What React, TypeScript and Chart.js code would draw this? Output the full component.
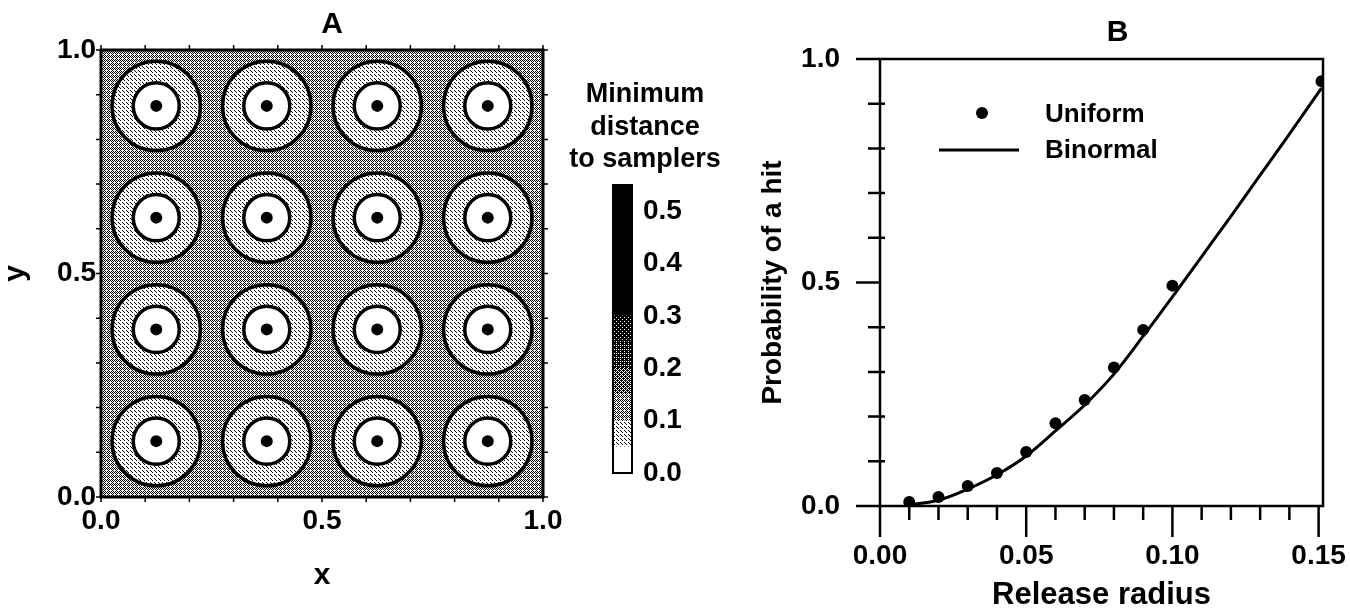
import React, { useEffect, useRef } from 'react';
import { Chart, registerables } from 'chart.js';

Chart.register(...registerables);

const FONT = "'Liberation Sans', Arial, Helvetica, sans-serif";

// ---------- Panel A: sampler layout ----------
const samplerX = [0.125, 0.375, 0.625, 0.875, 0.125, 0.375, 0.625, 0.875, 0.125, 0.375, 0.625, 0.875, 0.125, 0.375, 0.625, 0.875];
const samplerY = [0.875, 0.875, 0.875, 0.875, 0.625, 0.625, 0.625, 0.625, 0.375, 0.375, 0.375, 0.375, 0.125, 0.125, 0.125, 0.125];
const contourLevels = [0.052, 0.1];
const aTickValues = [0, 0.5, 1];
const aTitle = 'A';
const aXTitle = 'x';
const aYTitle = 'y';

// ---------- Colour bar ----------
const cbBounds = [0, 0.05, 0.1, 0.15, 0.2, 0.25, 0.3, 0.55];
const cbTickLabels = ['0.0', '0.1', '0.2', '0.3', '0.4', '0.5'];
const cbTitle = ['Minimum', 'distance', 'to samplers'];

// ---------- Panel B ----------
const uniformRadius = [0.01, 0.02, 0.03, 0.04, 0.05, 0.06, 0.07, 0.08, 0.09, 0.10, 0.151];
const uniformHit = [0.009, 0.02, 0.045, 0.074, 0.121, 0.185, 0.237, 0.31, 0.394, 0.493, 0.95];
const binormalRadius = [0.01, 0.02, 0.03, 0.04, 0.05, 0.06, 0.07, 0.08, 0.09, 0.10, 0.11, 0.12, 0.13, 0.14, 0.151];
const binormalHit = [0.003, 0.013, 0.038, 0.07, 0.112, 0.168, 0.226, 0.295, 0.38, 0.468, 0.558, 0.648, 0.74, 0.832, 0.935];
const bXTicks = [0, 0.05, 0.1, 0.15];
const bYTicks = [0, 0.5, 1];
const bTitle = 'B';
const bXTitle = 'Release radius';
const bYTitle = 'Probability of a hit';
const bSeriesNames = ['Uniform', 'Binormal'];

// dither masks (style only) for the shaded bands, light -> dark
const segmentMasks: string[][] = [
  ['0000', '0000', '0000', '0000'],
  ['1000', '0000', '0010', '0001'],
  ['1010', '0101', '1000', '0101'],
  ['1011', '0101', '1110', '0101'],
  ['1111', '0101', '1111', '1101'],
  ['1111', '1101', '1111', '0111'],
  ['1111', '1111', '1111', '1111'],
];

function makePattern(rows: string[]): CanvasPattern | string {
  const c = document.createElement('canvas');
  c.width = rows[0].length;
  c.height = rows.length;
  const g = c.getContext('2d');
  if (!g) return '#888';
  g.fillStyle = '#fff';
  g.fillRect(0, 0, c.width, c.height);
  g.fillStyle = '#000';
  rows.forEach((r, j) => {
    r.split('').forEach((ch, i) => {
      if (ch === '1') g.fillRect(i, j, 1, 1);
    });
  });
  return g.createPattern(c, 'repeat') || '#888';
}

const near = (v: number, arr: number[]) => arr.some((t) => Math.abs(t - v) < 1e-6);

export default function App() {
  const refA = useRef<HTMLCanvasElement>(null);
  const refCB = useRef<HTMLCanvasElement>(null);
  const refB = useRef<HTMLCanvasElement>(null);

  useEffect(() => {
    const fills = segmentMasks.map(makePattern);
    const segIndexAt = (v: number) => {
      for (let j = 0; j < cbBounds.length - 1; j++) {
        if (v >= cbBounds[j] - 1e-9 && v < cbBounds[j + 1] - 1e-9) return j;
      }
      return cbBounds.length - 2;
    };
    const tickFont = { family: FONT, size: 28, weight: 'bold' as const };
    const hidden = 'rgba(0,0,0,0)';

    // ---------------- Panel A ----------------
    const mapPlugin = {
      id: 'mapA',
      beforeDatasetsDraw(chart: any) {
        const { ctx, chartArea: ca, scales } = chart;
        const x = scales.x;
        const y = scales.y;
        ctx.save();
        const maxLevel = Math.max(...contourLevels);
        ctx.fillStyle = fills[segIndexAt(maxLevel + 0.001)];
        ctx.fillRect(ca.left, ca.top, ca.right - ca.left, ca.bottom - ca.top);
        const desc = [...contourLevels].sort((a, b) => b - a);
        desc.forEach((lv) => {
          const fill = fills[segIndexAt(lv - 0.003)];
          samplerX.forEach((sx, i) => {
            const cx = x.getPixelForValue(sx);
            const cy = y.getPixelForValue(samplerY[i]);
            const rx = x.getPixelForValue(sx + lv) - cx;
            const ry = cy - y.getPixelForValue(samplerY[i] + lv);
            ctx.beginPath();
            ctx.ellipse(cx, cy, rx, ry, 0, 0, Math.PI * 2);
            ctx.fillStyle = fill;
            ctx.fill();
            ctx.lineWidth = 3.5;
            ctx.strokeStyle = '#000';
            ctx.stroke();
          });
        });
        ctx.restore();
      },
      afterDraw(chart: any) {
        const { ctx, chartArea: ca, scales } = chart;
        const x = scales.x;
        const y = scales.y;
        ctx.save();
        ctx.strokeStyle = '#000';
        ctx.lineWidth = 3;
        ctx.strokeRect(ca.left, ca.top, ca.right - ca.left, ca.bottom - ca.top);
        ctx.lineWidth = 1.5;
        ctx.beginPath();
        for (let k = 0; k <= 10; k++) {
          const v = k / 10;
          const px = x.getPixelForValue(v);
          const py = y.getPixelForValue(v);
          ctx.moveTo(px, ca.bottom); ctx.lineTo(px, ca.bottom + 5);
          ctx.moveTo(px, ca.top); ctx.lineTo(px, ca.top - 5);
          ctx.moveTo(ca.left, py); ctx.lineTo(ca.left - 5, py);
          ctx.moveTo(ca.right, py); ctx.lineTo(ca.right + 5, py);
        }
        ctx.stroke();
        ctx.fillStyle = '#000';
        ctx.font = `bold 30px ${FONT}`;
        ctx.textAlign = 'center';
        ctx.textBaseline = 'middle';
        ctx.fillText(aTitle, (ca.left + ca.right) / 2 + 10, 25);
        ctx.restore();
      },
    };

    const chartA = new Chart(refA.current as HTMLCanvasElement, {
      type: 'scatter',
      data: {
        datasets: [
          {
            label: 'samplers',
            data: samplerX.map((sx, i) => ({ x: sx, y: samplerY[i] })),
            pointRadius: 6,
            pointBackgroundColor: '#000',
            pointBorderWidth: 0,
          },
        ],
      },
      options: {
        responsive: false,
        animation: false,
        events: [],
        layout: { padding: { left: 0, top: 50, right: 57, bottom: 0 } },
        plugins: { legend: { display: false }, tooltip: { enabled: false } },
        scales: {
          x: {
            type: 'linear',
            min: 0,
            max: 1,
            afterFit: (s: any) => { s.height = 117; },
            grid: { drawOnChartArea: false, drawTicks: true, tickLength: 5, tickColor: hidden },
            border: { display: false },
            ticks: {
              stepSize: 0.5,
              autoSkip: false,
              maxRotation: 0,
              padding: 2,
              color: '#000',
              font: tickFont,
              callback: (v: any) => (near(Number(v), aTickValues) ? Number(v).toFixed(1) : ''),
            },
            title: { display: true, text: aXTitle, color: '#000', font: { family: FONT, size: 30, weight: 'bold', lineHeight: 1 }, padding: { top: 0, bottom: 23 } },
          },
          y: {
            type: 'linear',
            min: 0,
            max: 1,
            afterFit: (s: any) => { s.width = 101; },
            grid: { drawOnChartArea: false, drawTicks: false },
            border: { display: false },
            ticks: {
              stepSize: 0.5,
              padding: 5,
              color: '#000',
              font: tickFont,
              callback: (v: any) => (near(Number(v), aTickValues) ? Number(v).toFixed(1) : ''),
            },
            title: { display: true, text: aYTitle, color: '#000', font: { family: FONT, size: 30, weight: 'bold', lineHeight: 1 }, padding: { top: 1, bottom: 0 } },
          },
        },
      } as any,
      plugins: [mapPlugin],
    });

    // ---------------- Colour bar ----------------
    const cbPlugin = {
      id: 'cbOutline',
      afterDatasetsDraw(chart: any) {
        const { ctx, chartArea: ca, scales } = chart;
        const y = scales.y;
        const top = y.getPixelForValue(cbBounds[cbBounds.length - 1]);
        const bot = y.getPixelForValue(cbBounds[0]);
        ctx.save();
        ctx.strokeStyle = '#000';
        ctx.lineWidth = 2;
        ctx.strokeRect(ca.left, top, ca.right - ca.left, bot - top);
        // title lines
        ctx.fillStyle = '#000';
        ctx.font = `bold 27px ${FONT}`;
        ctx.textAlign = 'center';
        ctx.textBaseline = 'alphabetic';
        cbTitle.forEach((line, i) => {
          ctx.fillText(line, ca.left + 32, 102 + i * 32.5);
        });
        ctx.restore();
      },
    };
    const chartCB = new Chart(refCB.current as HTMLCanvasElement, {
      type: 'bar',
      data: {
        labels: [''],
        datasets: cbBounds.slice(0, -1).map((lo, j) => ({
          label: `${lo}`,
          data: [[lo, cbBounds[j + 1]]],
          backgroundColor: fills[j],
          borderWidth: 0,
          grouped: false,
          barPercentage: 1,
          categoryPercentage: 1,
        })),
      },
      options: {
        responsive: false,
        animation: false,
        events: [],
        layout: { padding: { left: 63, right: 0, top: 185, bottom: 141 } },
        plugins: {
          legend: { display: false },
          tooltip: { enabled: false },
        },
        scales: {
          x: { display: false },
          y: {
            position: 'right',
            min: 0,
            max: cbBounds[cbBounds.length - 1],
            afterFit: (s: any) => { s.width = 108; },
            grid: { drawOnChartArea: false, drawTicks: false },
            border: { display: false },
            ticks: {
              stepSize: 0.1,
              includeBounds: false,
              padding: 11,
              color: '#000',
              font: tickFont,
              callback: (v: any) => {
                const lbl = Number(v).toFixed(1);
                return cbTickLabels.includes(lbl) && Math.abs(Number(v) * 10 - Math.round(Number(v) * 10)) < 1e-6 ? lbl : '';
              },
            },
          },
        },
      } as any,
      plugins: [cbPlugin],
    });

    // ---------------- Panel B ----------------
    const bPlugin = {
      id: 'frameB',
      beforeDatasetsDraw(chart: any) {
        const { ctx, chartArea: ca, scales } = chart;
        const x = scales.x;
        const y = scales.y;
        ctx.save();
        ctx.strokeStyle = '#000';
        ctx.lineWidth = 2.5;
        ctx.strokeRect(ca.left, ca.top, ca.right - ca.left, ca.bottom - ca.top);
        ctx.beginPath();
        for (let k = 0; k <= 10; k++) {
          const v = k / 10;
          const py = y.getPixelForValue(v);
          if (near(v, bYTicks)) { ctx.moveTo(ca.left - 24, py); ctx.lineTo(ca.left, py); }
          else { ctx.moveTo(ca.left - 12, py); ctx.lineTo(ca.left + 5, py); }
        }
        for (let k = 0; k <= 15; k++) {
          const v = k / 100;
          const px = x.getPixelForValue(v);
          if (near(v, bXTicks)) { ctx.moveTo(px, ca.bottom); ctx.lineTo(px, ca.bottom + 31); }
          else { ctx.moveTo(px, ca.bottom); ctx.lineTo(px, ca.bottom + 14); }
        }
        ctx.stroke();
        ctx.restore();
      },
      afterDraw(chart: any) {
        const { ctx, chartArea: ca } = chart;
        ctx.save();
        ctx.fillStyle = '#000';
        ctx.strokeStyle = '#000';
        ctx.font = `bold 30px ${FONT}`;
        ctx.textAlign = 'center';
        ctx.textBaseline = 'middle';
        ctx.fillText(bTitle, (ca.left + ca.right) / 2 + 16, 33);
        // legend
        const lx = ca.left;
        const ly = ca.top;
        ctx.beginPath();
        ctx.arc(lx + 102, ly + 54, 6, 0, Math.PI * 2);
        ctx.fill();
        ctx.lineWidth = 3;
        ctx.beginPath();
        ctx.moveTo(lx + 59, ly + 91);
        ctx.lineTo(lx + 139, ly + 91);
        ctx.stroke();
        ctx.font = `bold 26px ${FONT}`;
        ctx.textAlign = 'left';
        ctx.fillText(chart.data.datasets[0].label, lx + 165, ly + 56);
        ctx.fillText(chart.data.datasets[1].label, lx + 165, ly + 92);
        ctx.restore();
      },
    };

    const chartB = new Chart(refB.current as HTMLCanvasElement, {
      type: 'scatter',
      data: {
        datasets: [
          {
            label: bSeriesNames[0],
            data: uniformRadius.map((r, i) => ({ x: r, y: uniformHit[i] })),
            pointRadius: 6,
            pointBackgroundColor: '#000',
            pointBorderWidth: 0,
            showLine: false,
          },
          {
            label: bSeriesNames[1],
            data: binormalRadius.map((r, i) => ({ x: r, y: binormalHit[i] })),
            showLine: true,
            borderColor: '#000',
            borderWidth: 3,
            pointRadius: 0,
            cubicInterpolationMode: 'monotone',
          },
        ],
      },
      options: {
        responsive: false,
        animation: false,
        events: [],
        layout: { padding: { left: 0, top: 59, right: 27, bottom: 0 } },
        plugins: { legend: { display: false }, tooltip: { enabled: false } },
        scales: {
          x: {
            type: 'linear',
            min: 0,
            max: 0.1515,
            afterFit: (s: any) => { s.height = 108; },
            grid: { drawOnChartArea: false, drawTicks: true, tickLength: 31, tickColor: hidden },
            border: { display: false },
            ticks: {
              stepSize: 0.05,
              includeBounds: false,
              autoSkip: false,
              maxRotation: 0,
              padding: 2,
              color: '#000',
              font: tickFont,
              callback: (v: any) => (near(Number(v), bXTicks) ? Number(v).toFixed(2) : ''),
            },
            title: { display: true, text: bXTitle, color: '#000', font: { family: FONT, size: 31, weight: 'bold', lineHeight: 1 }, padding: { top: 0, bottom: 3 } },
          },
          y: {
            type: 'linear',
            min: 0,
            max: 1,
            afterFit: (s: any) => { s.width = 140; },
            grid: { drawOnChartArea: false, drawTicks: false },
            border: { display: false },
            ticks: {
              stepSize: 0.5,
              padding: 40,
              color: '#000',
              font: tickFont,
              callback: (v: any) => (near(Number(v), bYTicks) ? Number(v).toFixed(1) : ''),
            },
            title: { display: true, text: bYTitle, color: '#000', font: { family: FONT, size: 28, weight: 'bold', lineHeight: 1 }, padding: { top: 19, bottom: 0 } },
          },
        },
      } as any,
      plugins: [bPlugin],
    });

    return () => {
      chartA.destroy();
      chartCB.destroy();
      chartB.destroy();
    };
  }, []);

  return (
    <div style={{ position: 'absolute', left: 0, top: 0, width: 1350, height: 614, background: '#fff' }}>
      <canvas ref={refA} width={600} height={614} style={{ position: 'absolute', left: 0, top: 0, width: 600, height: 614 }} />
      <canvas ref={refCB} width={190} height={614} style={{ position: 'absolute', left: 550, top: 0, width: 190, height: 614 }} />
      <canvas ref={refB} width={610} height={614} style={{ position: 'absolute', left: 740, top: 0, width: 610, height: 614 }} />
    </div>
  );
}
